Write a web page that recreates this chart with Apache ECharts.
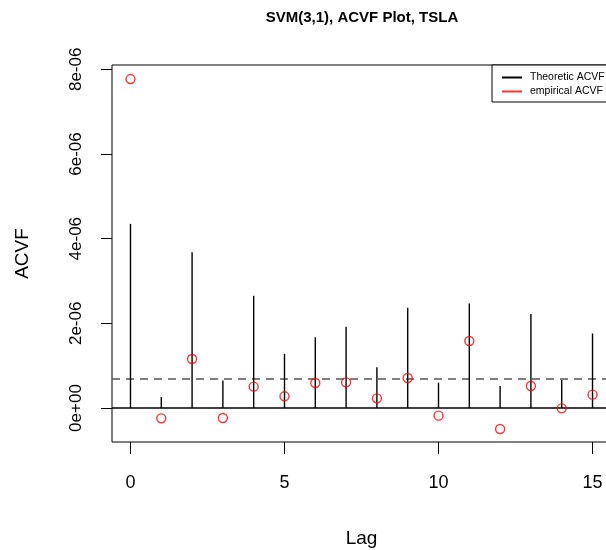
<!DOCTYPE html>
<html><head><meta charset="utf-8">
<script src="https://cdn.jsdelivr.net/npm/echarts@6/dist/echarts.min.js"></script>
<style>html,body{margin:0;padding:0;background:#fff}#c{width:606px;height:550px}</style>
</head><body><div id="c"></div>
<script>
const lags = [0,1,2,3,4,5,6,7,8,9,10,11,12,13,14,15];
const theoretic = [4.35e-6,0.26e-6,3.68e-6,0.65e-6,2.65e-6,1.28e-6,1.67e-6,1.92e-6,0.96e-6,2.37e-6,0.60e-6,2.47e-6,0.52e-6,2.22e-6,0.66e-6,1.76e-6];
const empirical = [7.77e-6,-0.244e-6,1.157e-6,-0.236e-6,0.504e-6,0.276e-6,0.591e-6,0.606e-6,0.228e-6,0.709e-6,-0.181e-6,1.583e-6,-0.496e-6,0.52e-6,-0.008e-6,0.315e-6];
const refLevel = 0.685e-6;
const xRange = [-0.6, 15.6];
const yRange = [-0.803e-6, 8.102e-6];
const xTicks = [0,5,10,15];
const yTicks = [0,2e-6,4e-6,6e-6,8e-6];
const yTickLabels = ['0e+00','2e-06','4e-06','6e-06','8e-06'];
const seriesNames = ['Theoretic ACVF','empirical ACVF'];
const titleText = 'SVM(3,1), ACVF Plot, TSLA';

const FONT = 'Liberation Sans, Arial, Helvetica, sans-serif';
const chart = echarts.init(document.getElementById('c'), null, {renderer:'canvas'});
chart.setOption({
  backgroundColor:'#fff',
  animation:false,
  textStyle:{fontFamily:FONT},
  title:{
    text:titleText, left:357, top:5, textAlign:'center',
    textStyle:{fontFamily:FONT, fontWeight:'bold', fontSize:15, color:'#000'}
  },
  legend:{
    orient:'vertical', left:492, top:65,
    padding:[7,10,5,10], itemGap:3, itemWidth:20, itemHeight:2,
    borderColor:'#000', borderWidth:1, backgroundColor:'#fff',
    textStyle:{fontFamily:FONT, fontSize:10.5, color:'#000', padding:[0,0,0,3]},
    data:[
      {name:seriesNames[0], icon:'rect', itemStyle:{color:'#000', borderWidth:0}},
      {name:seriesNames[1], icon:'rect', itemStyle:{color:'#ff0000', borderWidth:0}}
    ]
  },
  grid:{left:112, top:65, width:499, height:377, show:true, borderColor:'#000', borderWidth:1, backgroundColor:'transparent', outerBoundsMode:'none', containLabel:false},
  xAxis:{
    type:'value', min:xRange[0], max:xRange[1],
    name:'Lag', nameLocation:'middle', nameGap:87,
    nameTextStyle:{fontFamily:FONT, fontSize:19, color:'#000'},
    axisLine:{show:false, onZero:false},
    splitLine:{show:false},
    axisTick:{show:true, inside:false, length:12, customValues:xTicks, lineStyle:{color:'#000', width:1}},
    axisLabel:{show:true, customValues:xTicks, margin:32, fontFamily:FONT, fontSize:18, color:'#000'}
  },
  yAxis:{
    type:'value', min:yRange[0], max:yRange[1],
    name:'ACVF', nameLocation:'middle', nameGap:80, nameRotate:90,
    nameTextStyle:{fontFamily:FONT, fontSize:19, color:'#000'},
    axisLine:{show:false, onZero:false},
    splitLine:{show:false},
    axisTick:{show:true, inside:false, length:11, customValues:yTicks, lineStyle:{color:'#000', width:1}},
    axisLabel:{show:true, customValues:yTicks, rotate:90, margin:27, fontFamily:FONT, fontSize:17, color:'#000',
      formatter:function(v){ const i = yTicks.findIndex(t=>Math.abs(t-v)<1e-12); return i>=0?yTickLabels[i]:''; }}
  },
  series:[
    {
      name:'zero', type:'line', data:[[xRange[0],0],[xRange[1],0]],
      symbol:'none', silent:true, lineStyle:{color:'#000', width:1.3}, z:1
    },
    {
      name:'ref', type:'line', data:[[xRange[0],refLevel],[xRange[1],refLevel]],
      symbol:'none', silent:true, lineStyle:{color:'#555', width:1.6, type:[8,6]}, z:1
    },
    {
      name:seriesNames[0], type:'custom',
      data:lags.map((l,i)=>[l,theoretic[i]]),
      renderItem:function(params, api){
        const p0 = api.coord([api.value(0), 0]);
        const p1 = api.coord([api.value(0), api.value(1)]);
        return {type:'line', shape:{x1:p0[0],y1:p0[1],x2:p1[0],y2:p1[1]}, style:{stroke:'#000', lineWidth:1.4}};
      },
      z:2
    },
    {
      name:seriesNames[1], type:'scatter',
      data:lags.map((l,i)=>[l,empirical[i]]),
      symbol:'circle', symbolSize:9,
      itemStyle:{color:'transparent', borderColor:'#ff0000', borderWidth:1.4},
      z:3
    }
  ]
});
</script></body></html>
